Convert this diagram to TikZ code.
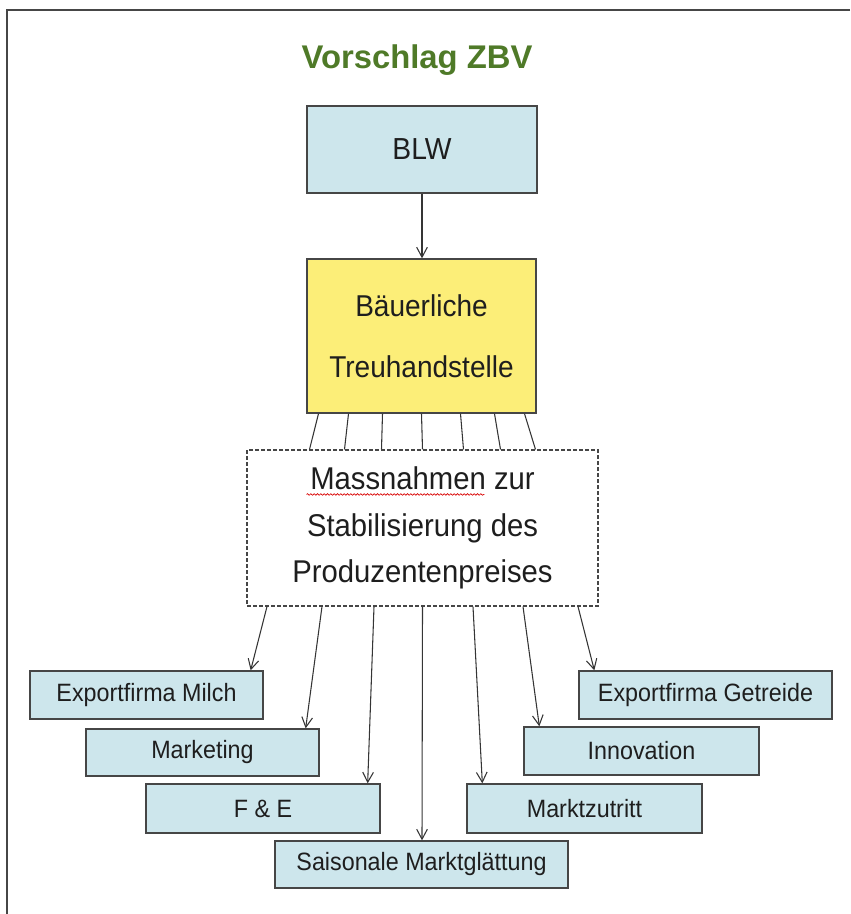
\documentclass[tikz,border=0pt]{standalone}
\usepackage{fontspec}
\setmainfont{Liberation Sans}
\newfontfamily\narrowsans[FakeStretch=0.93]{Liberation Sans}
\usetikzlibrary{arrows.meta,calc,decorations.pathmorphing}
\definecolor{boxblue}{RGB}{205,230,236}
\definecolor{boxyellow}{RGB}{252,238,120}
\definecolor{titlegreen}{RGB}{79,122,40}
\definecolor{edge}{RGB}{70,70,70}
\definecolor{ink}{RGB}{30,30,30}
\newdimen\pxu
\pxu=0.75pt
\begin{document}
\begin{tikzpicture}[x=0.75pt,y=-0.75pt,
  box/.style={draw=edge, line width=1pt, inner sep=0pt, text=ink, align=center, rectangle},
  bluebox/.style={box, fill=boxblue, font=\narrowsans\fontsize{18.8}{22}\selectfont},
  conn/.style={draw=ink!90, line width=0.8pt},
  arr/.style={conn, -{Straight Barb[length=7.5pt,width=8pt,line width=0.8pt]}}]
\useasboundingbox (0,0) rectangle (850,914);
\draw[line width=1.5pt, draw=edge] (850,10) -- (7,10) -- (7,914);

\node[font=\fontsize{24.6}{30}\selectfont\bfseries, text=titlegreen, anchor=base] (title) at (417,68) {Vorschlag ZBV};

\node[box, fill=boxblue, minimum width=230\pxu, minimum height=87\pxu, font=\narrowsans\fontsize{22.8}{26}\selectfont] (blw) at (422,149.5) {BLW};
\node[box, fill=boxyellow, minimum width=229\pxu, minimum height=154\pxu, font=\narrowsans\fontsize{22.6}{45.8}\selectfont] (treu) at (421.5,336) {Bäuerliche\\Treuhandstelle};
\node[box, dash pattern=on 3pt off 1.5pt, line width=0.8pt, fill=white, minimum width=351\pxu, minimum height=156\pxu, font=\narrowsans\fontsize{23.6}{34.9}\selectfont] (mass) at (422.5,528) {Massnahmen zur\\Stabilisierung des\\Produzentenpreises};

\node[bluebox, minimum width=233\pxu, minimum height=48\pxu] (milch) at (146.5,695) {Exportfirma Milch};
\node[bluebox, minimum width=233\pxu, minimum height=47\pxu] (mark) at (202.5,752.5) {Marketing};
\node[bluebox, minimum width=234\pxu, minimum height=49\pxu] (fe) at (263,808.5) {F \& E};
\node[bluebox, minimum width=293\pxu, minimum height=47\pxu] (sais) at (421.5,864.5) {Saisonale Marktglättung};
\node[bluebox, minimum width=253\pxu, minimum height=48\pxu] (getr) at (705.5,695) {Exportfirma Getreide};
\node[bluebox, minimum width=235\pxu, minimum height=48\pxu] (innov) at (641.5,751) {Innovation};
\node[bluebox, minimum width=235\pxu, minimum height=49\pxu] (markt) at (584.5,808.5) {Marktzutritt};

\draw[red!85!black, line width=0.5pt, decorate, decoration={snake, amplitude=0.6pt, segment length=2.5pt}]
  ($(mass.north west)+(60,45)$) -- ($(mass.north west)+(238,45)$);

\draw[arr] (blw.south) -- (blw.south |- treu.north);

\foreach \a/\b in {-103/-113,-73/-78,-39/-41,0/0,39/41,73/78,103/113}
  \draw[conn] ($(treu.south)+(\a,0)$) -- ($(mass.north)+(\b,0)$);

\draw[arr] ($(mass.south)+(-155.5,0)$) -- ($(milch.north east)+(-13,0)$);
\draw[arr] ($(mass.south)+(-100.5,0)$) -- ($(mark.north east)+(-14,0)$);
\draw[arr] ($(mass.south)+(-48.5,0)$) -- ($(fe.north east)+(-13,0)$);
\draw[arr] ($(mass.south)+(0,0)$) -- ($(sais.north)+(0.5,0)$);
\draw[arr] ($(mass.south)+(50.5,0)$) -- ($(markt.north west)+(16,0)$);
\draw[arr] ($(mass.south)+(100.5,0)$) -- ($(innov.north west)+(16,0)$);
\draw[arr] ($(mass.south)+(155.5,0)$) -- ($(getr.north west)+(16,0)$);
\end{tikzpicture}
\end{document}
